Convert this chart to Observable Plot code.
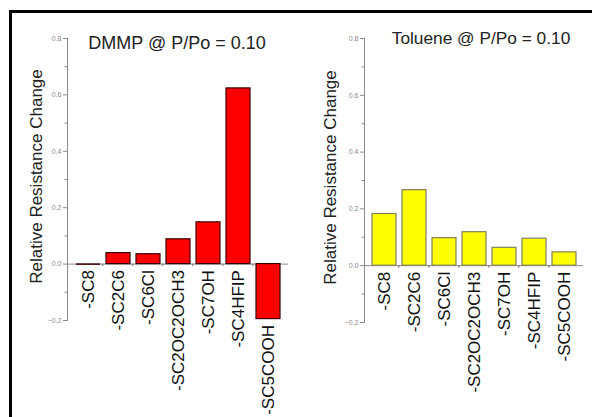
<!DOCTYPE html>
<html>
<head>
<meta charset="utf-8">
<script src="https://cdn.jsdelivr.net/npm/d3@7"></script>
<script src="https://cdn.jsdelivr.net/npm/@observablehq/plot@0.6"></script>
<style>
  html, body { margin: 0; padding: 0; background: #fff; }
  #wrap { position: relative; width: 592px; height: 417px; overflow: hidden; font-family: "Liberation Sans", Arial, sans-serif; }
  #frame { position: absolute; left: 9px; top: 10px; width: 640px; height: 460px; border-left: 3px solid #000; border-top: 3px solid #000; }
  .panel { position: absolute; top: 0; }
</style>
</head>
<body>
<div id="wrap"><div id="frame"></div></div>
<script>
const categories = ["-SC8", "-SC2C6", "-SC6Cl", "-SC2OC2OCH3", "-SC7OH", "-SC4HFIP", "-SC5COOH"];
const dmmpValues = [0, 0.039, 0.035, 0.088, 0.148, 0.623, -0.195];
const tolueneValues = [0.182, 0.266, 0.097, 0.118, 0.063, 0.095, 0.047];
const majorTicks = [-0.2, 0, 0.2, 0.4, 0.6, 0.8];
const minorTicks = [-0.1, 0.1, 0.3, 0.5, 0.7];
const yLabel = "Relative Resistance Change";

function panel({values, title, fill, stroke, left, ml, mr, mb, titleDx, titleDy, titleSize, labelDx}) {
  const W = 296, H = 417;
  const data = categories.map((c, i) => ({cat: c, value: values[i]}));
  const step = (W - ml - mr) / categories.length;
  const chart = Plot.plot({
    width: W, height: H,
    marginLeft: ml, marginRight: mr, marginTop: 38, marginBottom: mb,
    style: {background: "transparent", fontFamily: "'Liberation Sans', Arial, sans-serif", overflow: "visible"},
    x: {domain: categories, padding: 0.2, axis: null},
    y: {domain: [-0.2, 0.8], axis: null},
    marks: [
      Plot.frame({anchor: "left", stroke: "#8a8a8a"}),
      Plot.axisY({ticks: majorTicks, tickFormat: d3.format(".1f"), tickSize: 4, tickPadding: 2, fontSize: 7, color: "#8a8a8a", label: null}),
      Plot.axisY({ticks: minorTicks, tickFormat: () => "", tickSize: 2.5, color: "#8a8a8a", label: null}),
      Plot.ruleY([0], {stroke: "#8a8a8a"}),
      Plot.ruleX(categories.slice(1), {x: d => d, y1: 0, y2: -0.008, dx: -step / 2, stroke: "#8a8a8a", strokeWidth: 1.5}),
      Plot.barY(data, {x: "cat", y: "value", fill, stroke, strokeWidth: 1.2}),
      Plot.tickY(data.filter(d => d.value === 0), {x: "cat", y: "value", stroke, strokeWidth: 1.5}),
      Plot.text(data, {x: "cat", y: d => Math.min(d.value, 0), text: "cat", rotate: -90, textAnchor: "end", dy: 6, fontSize: 17, fill: "#111"}),
      Plot.text([title], {frameAnchor: "top", lineAnchor: "bottom", dx: titleDx, dy: titleDy, fontSize: titleSize, fill: "#222"}),
      Plot.text([yLabel], {frameAnchor: "left", textAnchor: "middle", rotate: -90, dx: labelDx, dy: -3, fontSize: 17, fill: "#222"})
    ]
  });
  chart.classList.add("panel");
  chart.style.left = left + "px";
  document.getElementById("wrap").appendChild(chart);
}

panel({values: dmmpValues, title: "DMMP @ P/Po = 0.10", fill: "#ff0000", stroke: "#3a0000",
  left: 0, ml: 67, mr: 8, mb: 97, titleDx: -1, titleDy: 10, titleSize: 18, labelDx: -31});
panel({values: tolueneValues, title: "Toluene @ P/Po = 0.10", fill: "#ffff00", stroke: "#808060",
  left: 296, ml: 68, mr: 9, mb: 95, titleDx: 7, titleDy: 5, titleSize: 17.3, labelDx: -34});
</script>
</body>
</html>
